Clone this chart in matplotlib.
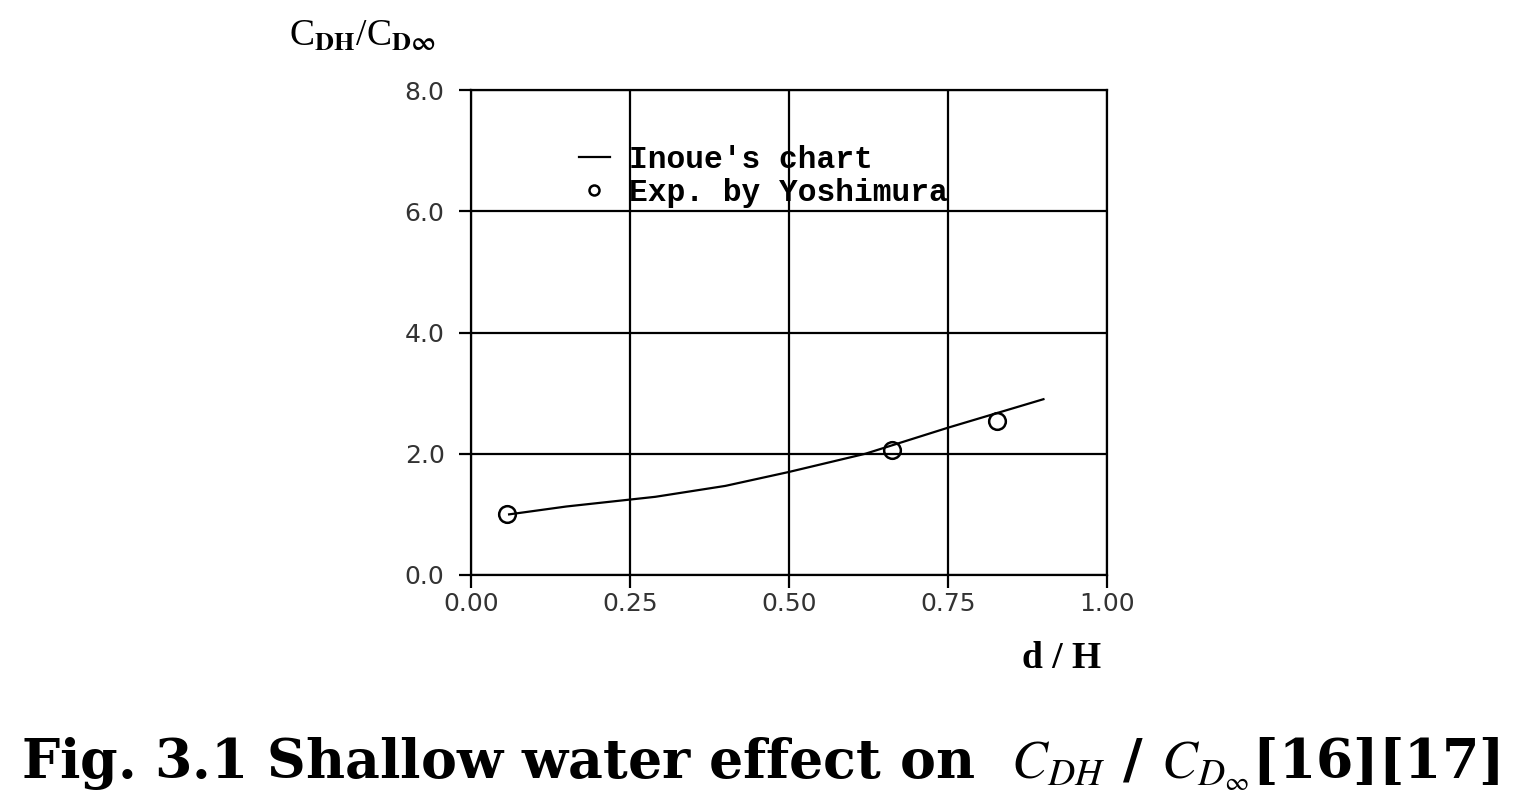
import matplotlib
matplotlib.use("Agg")
import matplotlib.pyplot as plt

# Inoue's chart (curve) and Yoshimura's experiments (points)
chart_dh = [0.06, 0.15, 0.29, 0.40, 0.50, 0.62, 0.75, 0.90]
chart_ratio = [1.00, 1.13, 1.29, 1.47, 1.70, 2.00, 2.43, 2.90]
exp_dh = [0.057, 0.662, 0.827]
exp_ratio = [1.00, 2.06, 2.54]

x_ticks = [0.0, 0.25, 0.50, 0.75, 1.00]
x_labels = ["0.00", "0.25", "0.50", "0.75", "1.00"]
y_ticks = [0.0, 2.0, 4.0, 6.0, 8.0]
y_labels = ["0.0", "2.0", "4.0", "6.0", "8.0"]

plt.rcParams["mathtext.fontset"] = "stix"

fig = plt.figure(figsize=(15.31, 8.11), dpi=100)
ax = fig.add_axes([0.3076, 0.291, 0.4155, 0.598])

ax.plot(chart_dh, chart_ratio, color="black", lw=1.6, label="Inoue's chart")
ax.plot(exp_dh, exp_ratio, "o", mfc="none", mec="black", mew=1.8, ms=12,
        label="Exp. by Yoshimura")

ax.set_xlim(0, 1)
ax.set_ylim(0, 8)
ax.set_xticks(x_ticks)
ax.set_xticklabels(x_labels)
ax.set_yticks(y_ticks)
ax.set_yticklabels(y_labels)
ax.grid(True, color="black", lw=1.6)
for s in ax.spines.values():
    s.set_linewidth(1.6)
ax.tick_params(direction="out", length=9, width=1.6, labelsize=18,
               colors="black")
ax.tick_params(axis="y", pad=10)
ax.tick_params(axis="x", pad=3)
for lab in ax.get_xticklabels() + ax.get_yticklabels():
    lab.set_color("#333333")

leg = ax.legend(loc="upper left", bbox_to_anchor=(0.125, 0.945), frameon=False,
                handlelength=1.0, handletextpad=0.6, markerscale=0.6,
                labelspacing=0.1,
                prop={"family": "Liberation Mono", "size": 22.5, "weight": "bold"})

fig.text(0.189, 0.955, r"C$_{\mathbf{DH}}$/C$_{\mathbf{D\infty}}$", fontsize=27,
         family="Liberation Serif", ha="left", va="center")
fig.text(0.719, 0.188, "d / H", fontsize=27, family="Liberation Serif",
         weight="bold", ha="right", va="center")
fig.text(0.014, 0.058,
         r"Fig. 3.1 Shallow water effect on  $C_{DH}$ / $C_{D_\infty}$[16][17]",
         fontsize=38.7, family="DejaVu Serif", weight="bold",
         ha="left", va="center")

fig.savefig("out.png", dpi=100, facecolor="white")
